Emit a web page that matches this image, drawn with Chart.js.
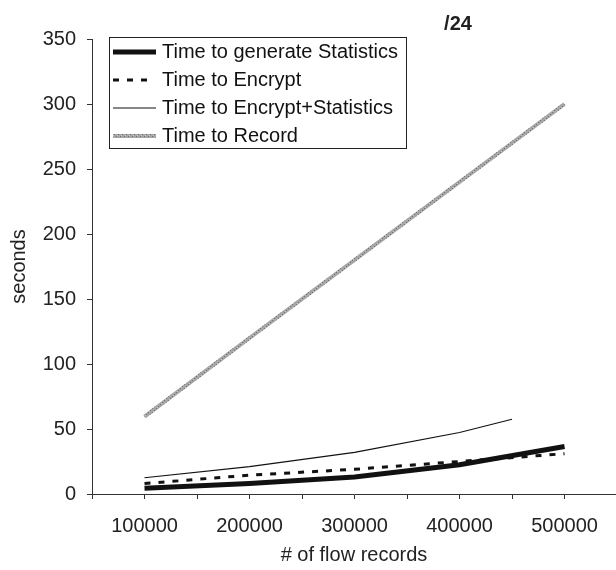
<!DOCTYPE html>
<html>
<head>
<meta charset="utf-8">
<script src="https://cdn.jsdelivr.net/npm/chart.js@4"></script>
<style>
  html, body { margin: 0; padding: 0; background: #fff; }
  #wrap { width: 616px; height: 570px; }
</style>
</head>
<body>
<div id="wrap"><canvas id="myChart" width="616" height="570"></canvas></div>
<script>
// valores
const flowRecords = [100000, 200000, 300000, 400000, 500000];
const statsTimes = [4.5, 8, 13, 22.5, 36.5];
const encryptTimes = [8, 14.5, 19, 25, 31];
const recordTimes = [59.5, 120, 180, 240, 300];
// la curva Encrypt+Statistics se corta a la mitad entre 400000 y 500000
const encStatsRecords = [100000, 200000, 300000, 400000, 450000];
const encStatsTimes = [12.5, 21, 32, 47.3, 57.5];

const seriesNames = ["Time to generate Statistics", "Time to Encrypt", "Time to Encrypt+Statistics", "Time to Record"];
const yTicks = [0, 50, 100, 150, 200, 250, 300, 350];
const chartTitle = "/24";

Chart.defaults.font.family = "'Liberation Sans', Arial, sans-serif";
Chart.defaults.font.size = 20;
Chart.defaults.color = "#222";

function toPoints(xs, ys){
    return xs.map((x, i) => ({x, y: ys[i]}));
}

// textura gris para la linea de Record
function grayPattern(){
    const c = document.createElement("canvas");
    c.width = 4; c.height = 4;
    const g = c.getContext("2d");
    g.fillStyle = "#a6a6a6";
    g.fillRect(0, 0, 4, 4);
    g.fillStyle = "#6f6f6f";
    g.fillRect(0, 0, 1, 1);
    g.fillRect(2, 2, 1, 1);
    g.fillStyle = "#c4c4c4";
    g.fillRect(1, 3, 1, 1);
    return g.createPattern(c, "repeat");
}

const recordColor = grayPattern();

const datasets = [
    {
        label: seriesNames[0],
        data: toPoints(flowRecords, statsTimes),
        borderColor: "#111",
        borderWidth: 5
    },
    {
        label: seriesNames[1],
        data: toPoints(flowRecords, encryptTimes),
        borderColor: "#111",
        borderWidth: 3,
        borderDash: [6, 8]
    },
    {
        label: seriesNames[2],
        data: toPoints(encStatsRecords, encStatsTimes),
        borderColor: "#111",
        borderWidth: 1.2
    },
    {
        label: seriesNames[3],
        data: toPoints(flowRecords, recordTimes),
        borderColor: recordColor,
        borderWidth: 4
    }
];

// leyenda con marco dentro del grafico (la de Chart.js no dibuja guiones con pointStyle)
const legendBoxPlugin = {
    id: "legendBox",
    afterDraw(chart){
        const ctx = chart.ctx;
        ctx.save();
        ctx.fillStyle = "#fff";
        ctx.fillRect(110, 38, 296, 110);
        ctx.strokeStyle = "#222";
        ctx.lineWidth = 1;
        ctx.strokeRect(109.5, 37.5, 297, 111);
        ctx.font = "20px 'Liberation Sans', Arial, sans-serif";
        ctx.textBaseline = "middle";
        chart.data.datasets.forEach((ds, i) => {
            const y = 52 + i * 28;
            ctx.beginPath();
            ctx.setLineDash(ds.borderDash || []);
            ctx.lineWidth = ds.borderWidth;
            ctx.strokeStyle = ds.borderColor;
            ctx.moveTo(113, y);
            ctx.lineTo(ds.borderDash ? 148 : 156, y);
            ctx.stroke();
            ctx.fillStyle = "#111";
            ctx.fillText(ds.label, 162, y);
        });
        ctx.setLineDash([]);
        ctx.fillStyle = "#222";
        ctx.font = "bold 20px 'Liberation Sans', Arial, sans-serif";
        ctx.textAlign = "center";
        ctx.fillText(chartTitle, 458, 24);
        ctx.restore();
    }
};

const canvas = document.querySelector("#myChart");
const myChart = new Chart(canvas, {
    type: "line",
    data: { datasets },
    options: {
        responsive: false,
        animation: false,
        layout: { padding: { top: 39, left: 0, right: 0, bottom: 0 } },
        elements: {
            point: { radius: 0 },
            line: { tension: 0, borderCapStyle: "butt" }
        },
        plugins: {
            legend: { display: false },
            tooltip: { enabled: false }
        },
        scales: {
            x: {
                type: "linear",
                min: 50000,
                max: 549000,
                afterFit(scale){
                    scale.height = 76;
                    scale.paddingLeft = 0;
                    scale.paddingRight = 0;
                },
                // marcas en cada categoria y a medio camino
                afterBuildTicks(scale){
                    scale.ticks = flowRecords.flatMap(v => [{value: v - 50000}, {value: v}]);
                },
                afterTickToLabelConversion(scale){
                    scale.ticks.forEach(t => {
                        t.label = flowRecords.includes(t.value) ? String(t.value) : "";
                    });
                },
                border: { color: "#333", width: 1 },
                grid: { drawOnChartArea: false, color: "#333", tickLength: 5 },
                ticks: {
                    maxRotation: 0,
                    autoSkip: false,
                    padding: 15,
                    color: "#222"
                },
                title: {
                    display: true,
                    text: "# of flow records",
                    color: "#222",
                    font: { size: 20 },
                    padding: { top: 0, bottom: 3 }
                }
            },
            y: {
                min: 0,
                max: 350,
                afterFit(scale){
                    scale.width = 92;
                },
                afterBuildTicks(scale){
                    scale.ticks = yTicks.map(v => ({value: v}));
                },
                border: { color: "#333", width: 1 },
                grid: { drawOnChartArea: false, color: "#333", tickLength: 5 },
                ticks: { padding: 11, color: "#222" },
                title: {
                    display: true,
                    text: "seconds",
                    color: "#222",
                    font: { size: 20 },
                    padding: { top: 7, bottom: 0 }
                }
            }
        }
    },
    plugins: [legendBoxPlugin]
});
</script>
</body>
</html>
